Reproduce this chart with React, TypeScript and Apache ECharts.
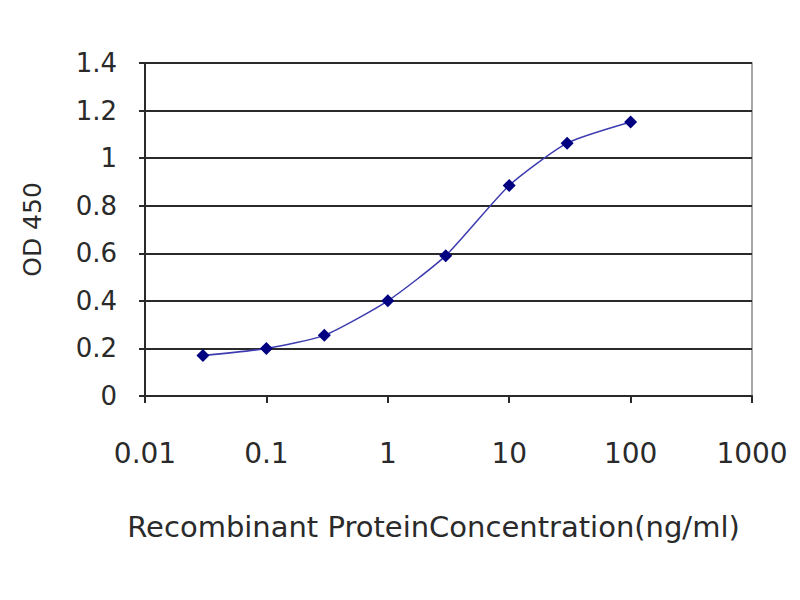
import React, { useEffect, useRef } from "react";
import * as echarts from "echarts";

const concentrations = [0.03, 0.1, 0.3, 1, 3, 10, 30, 100];
const odValues = [0.17, 0.2, 0.255, 0.4, 0.59, 0.885, 1.063, 1.152];
const xTickLabels = ["0.01", "0.1", "1", "10", "100", "1000"];
const yTicks = [0, 0.2, 0.4, 0.6, 0.8, 1, 1.2, 1.4];

export default function App() {
  const ref = useRef<HTMLDivElement>(null);
  useEffect(() => {
    document.body.style.margin = "0";
    const chart = echarts.init(ref.current!, null, { renderer: "svg" });
    const font = "DejaVu Sans, Verdana, sans-serif";
    chart.setOption({
      animation: false,
      backgroundColor: "#ffffff",
      grid: {
        left: 145,
        top: 63,
        width: 607,
        height: 333,
        show: true,
        borderColor: "#8a8a8a",
        borderWidth: 1.5,
        backgroundColor: "transparent",
      },
      xAxis: {
        type: "log",
        logBase: 10,
        min: 0.01,
        max: 1000,
        name: "Recombinant ProteinConcentration(ng/ml)",
        nameLocation: "middle",
        nameGap: 116,
        nameTextStyle: {
          fontFamily: font,
          fontSize: 29,
          color: "#2a2a2a",
          padding: [0, 30, 0, 0],
        },
        axisLine: { show: true, lineStyle: { color: "#2a2a2a", width: 2 } },
        axisTick: { show: true, inside: false, length: 7, lineStyle: { color: "#2a2a2a", width: 2 } },
        splitLine: { show: false },
        minorTick: { show: false },
        axisLabel: {
          fontFamily: font,
          fontSize: 28,
          color: "#2a2a2a",
          margin: 43,
          formatter: (v: number) => {
            const i = Math.round(Math.log10(v)) + 2;
            return xTickLabels[i] ?? "";
          },
        },
      },
      yAxis: {
        type: "value",
        min: 0,
        max: 1.4,
        interval: 0.2,
        name: "OD 450",
        nameLocation: "middle",
        nameGap: 100,
        nameRotate: 90,
        nameTextStyle: { fontFamily: font, fontSize: 25, color: "#2a2a2a" },
        axisLine: { show: true, lineStyle: { color: "#2a2a2a", width: 2 } },
        axisTick: { show: true, length: 6, lineStyle: { color: "#2a2a2a", width: 2 } },
        splitLine: { show: true, lineStyle: { color: "#2a2a2a", width: 2 } },
        axisLabel: {
          fontFamily: font,
          fontSize: 26,
          color: "#2a2a2a",
          margin: 28,
          formatter: (v: number) => {
            const t = yTicks.find((y) => Math.abs(y - v) < 1e-6);
            return t === undefined ? "" : String(Number(t.toFixed(1)));
          },
        },
      },
      series: [
        {
          type: "line",
          data: concentrations.map((c, i) => [c, odValues[i]]),
          smooth: 0.2,
          symbol: "diamond",
          symbolSize: 13,
          lineStyle: { color: "#3c3cb0", width: 1.5 },
          itemStyle: { color: "#000080" },
        },
      ],
    });
    return () => chart.dispose();
  }, []);
  return (
    <div
      ref={ref}
      style={{ width: 800, height: 600, position: "absolute", left: 0, top: 0 }}
    />
  );
}
